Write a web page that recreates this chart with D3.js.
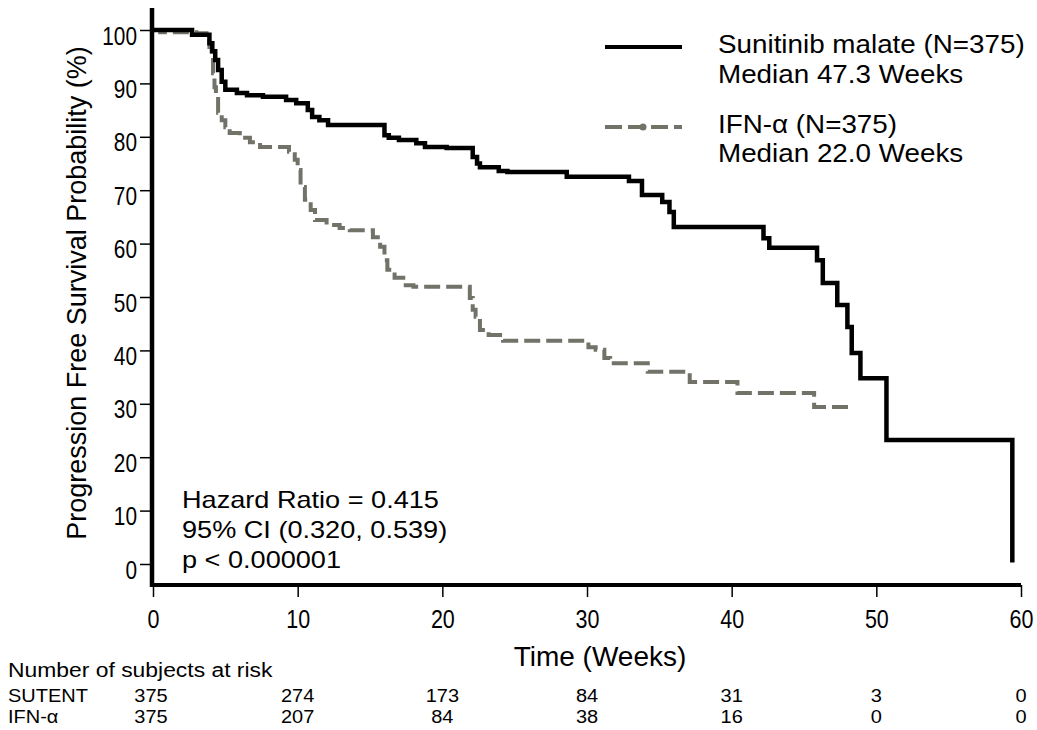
<!DOCTYPE html>
<html>
<head>
<meta charset="utf-8">
<script src="https://cdnjs.cloudflare.com/ajax/libs/d3/7.8.5/d3.min.js"></script>
<style>
  body { margin: 0; background: #fff; }
  text { font-family: "Liberation Sans", Arial, sans-serif; fill: #000; }
</style>
</head>
<body>
<svg id="chart" width="1037" height="730"></svg>
<script>
// Kaplan-Meier steps (time in weeks, survival in %)
var sunTime = [0, 2.7, 3.9, 4.1, 4.3, 4.5, 4.75, 5.0, 5.8, 6.5, 7.6, 9.2, 9.9, 10.7, 11.0, 11.5, 12.1,
    16.0, 16.3, 17.0, 18.2, 18.8, 20.3, 22.1, 22.4, 22.6, 23.9, 24.5, 28.6, 32.9, 33.8, 35.2, 35.7, 36.0,
    42.2, 42.6, 45.9, 46.3, 47.3, 48.0, 48.3, 48.9, 50.7, 59.4];
var sunSurv = [100, 99.1, 97.5, 96.0, 94.4, 92.5, 90.3, 88.8, 88.2, 87.8, 87.5, 86.9, 86.3, 85.0, 83.7, 83.1, 82.2,
    80.3, 79.8, 79.4, 78.8, 78.1, 77.9, 76.2, 75.0, 74.3, 73.6, 73.4, 72.5, 71.7, 69.1, 67.8, 65.9, 63.1,
    61.0, 59.2, 56.9, 52.6, 48.5, 44.4, 39.5, 34.8, 23.2, 0.3];

var ifnTime = [0, 0.5, 3.0, 3.7, 3.9, 4.05, 4.15, 4.25, 4.35, 4.5, 4.75, 5.0, 5.3, 6.0, 6.7, 7.4, 9.4, 9.8,
    10.0, 10.2, 10.5, 10.9, 11.2, 12.0, 12.9, 13.6, 15.2, 15.7, 16.0, 16.2, 16.7, 17.3, 18.0, 21.9, 22.1,
    22.3, 22.6, 23.2, 24.2, 30.1, 30.6, 31.2, 31.6, 34.2, 37.1, 40.4, 45.7, 48.4];
var ifnSurv = [100, 99.6, 99.4, 98.5, 96.8, 94.9, 91.9, 89.3, 87.5, 84.5, 83.1, 81.8, 80.7, 79.8, 79.0, 78.1, 77.2, 75.7,
    73.8, 70.6, 68.2, 66.3, 64.4, 63.5, 62.9, 62.5, 61.2, 59.4, 56.9, 55.1, 53.6, 52.2, 51.9, 49.8, 47.6,
    46.3, 43.8, 42.9, 41.8, 40.6, 40.1, 38.6, 37.6, 36.0, 34.1, 32.0, 29.4, 29.4];

var xTicks = [0, 10, 20, 30, 40, 50, 60];
var yTicks = [0, 10, 20, 30, 40, 50, 60, 70, 80, 90, 100];

var riskTimes = [0, 10, 20, 30, 40, 50, 60];
var sutentRisk = [375, 274, 173, 84, 31, 3, 0];
var ifnRisk = [375, 207, 84, 38, 16, 0, 0];

var grey = "#727269";
var svg = d3.select("#chart");

var x = d3.scaleLinear().domain([0, 60]).range([153, 1021]);
var y = d3.scaleLinear().domain([0, 100]).range([564, 30]);

// text helper: font size plus horizontal squeeze/stretch
function label(g, px, py, str, size, sx, anchor) {
    return g.append("text")
        .attr("transform", "translate(" + px + "," + py + ") scale(" + sx + ",1)")
        .attr("text-anchor", anchor || "start")
        .attr("font-size", size + "px")
        .text(str);
}

// y axis ticks
var gy = svg.append("g")
    .attr("transform", "translate(153,0)")
    .call(d3.axisLeft(y).tickValues(yTicks).tickSize(13).tickFormat(d3.format("d")));
gy.select(".domain").remove();
gy.selectAll(".tick line").attr("stroke", "#000").attr("stroke-width", 1.5);
gy.selectAll(".tick text")
    .attr("x", null).attr("dy", null)
    .attr("transform", "translate(-16,14) scale(0.8,1)")
    .attr("font-size", "26px")
    .attr("font-family", "Liberation Sans, Arial, sans-serif")
    .attr("fill", "#000");

// x axis ticks
var gx = svg.append("g")
    .attr("transform", "translate(0,585)")
    .call(d3.axisBottom(x).tickValues(xTicks).tickSize(12).tickFormat(d3.format("d")));
gx.select(".domain").remove();
gx.selectAll(".tick line").attr("stroke", "#000").attr("stroke-width", 1.5);
gx.selectAll(".tick text")
    .attr("y", null).attr("dy", null)
    .attr("transform", "translate(0,43) scale(0.86,1)")
    .attr("font-size", "25px")
    .attr("font-family", "Liberation Sans, Arial, sans-serif")
    .attr("fill", "#000");

// heavy axis lines
svg.append("line").attr("x1", 152).attr("x2", 152).attr("y1", 8).attr("y2", 587)
    .attr("stroke", "#000").attr("stroke-width", 4.5);
svg.append("line").attr("x1", 150).attr("x2", 1021).attr("y1", 585).attr("y2", 585)
    .attr("stroke", "#000").attr("stroke-width", 4);

// curves
var step = d3.line()
    .x(function (d) { return x(d[0]); })
    .y(function (d) { return y(d[1]); })
    .curve(d3.curveStepAfter);

svg.append("path")
    .datum(d3.zip(ifnTime, ifnSurv))
    .attr("d", step)
    .attr("fill", "none")
    .attr("stroke", grey)
    .attr("stroke-width", 4)
    .attr("stroke-dasharray", "16,6");

svg.append("path")
    .datum(d3.zip(sunTime, sunSurv))
    .attr("d", step)
    .attr("fill", "none")
    .attr("stroke", "#000")
    .attr("stroke-width", 4.5);

// legend
svg.append("line").attr("x1", 605).attr("x2", 682).attr("y1", 47).attr("y2", 47)
    .attr("stroke", "#000").attr("stroke-width", 4);
svg.append("line").attr("x1", 605).attr("x2", 682).attr("y1", 127).attr("y2", 127)
    .attr("stroke", grey).attr("stroke-width", 4).attr("stroke-dasharray", "17,6");
svg.append("circle").attr("cx", 643).attr("cy", 127).attr("r", 3.5).attr("fill", grey);

label(svg, 718, 53, "Sunitinib malate (N=375)", 26, 1.07);
label(svg, 718, 83, "Median 47.3 Weeks", 26, 1.07);
label(svg, 718, 133, "IFN-α (N=375)", 26, 1.07);
label(svg, 718, 162, "Median 22.0 Weeks", 26, 1.07);

// statistics
label(svg, 182, 508, "Hazard Ratio = 0.415", 24, 1.13);
label(svg, 182, 538, "95% CI (0.320, 0.539)", 24, 1.13);
label(svg, 182, 568, "p < 0.000001", 24, 1.13);

// axis titles
label(svg, 600, 666, "Time (Weeks)", 28, 1, "middle");
svg.append("text")
    .attr("transform", "translate(86,293) rotate(-90)")
    .attr("text-anchor", "middle")
    .attr("font-size", "27px")
    .text("Progression Free Survival Probability (%)");

// number at risk
label(svg, 8, 677, "Number of subjects at risk", 21, 1.09);
label(svg, 8, 702, "SUTENT", 18.5, 1.08);
label(svg, 8, 723, "IFN-α", 18.5, 1.08);

svg.selectAll(".riskSun")
    .data(d3.zip(riskTimes, sutentRisk))
    .enter().append("text")
    .attr("class", "riskSun")
    .attr("transform", function (d) { return "translate(" + (d[0] === 0 ? 151 : x(d[0])) + ",702) scale(1.08,1)"; })
    .attr("text-anchor", "middle")
    .attr("font-size", "18.5px")
    .text(function (d) { return d[1]; });

svg.selectAll(".riskIfn")
    .data(d3.zip(riskTimes, ifnRisk))
    .enter().append("text")
    .attr("class", "riskIfn")
    .attr("transform", function (d) { return "translate(" + (d[0] === 0 ? 151 : x(d[0])) + ",723) scale(1.08,1)"; })
    .attr("text-anchor", "middle")
    .attr("font-size", "18.5px")
    .text(function (d) { return d[1]; });
</script>
</body>
</html>
